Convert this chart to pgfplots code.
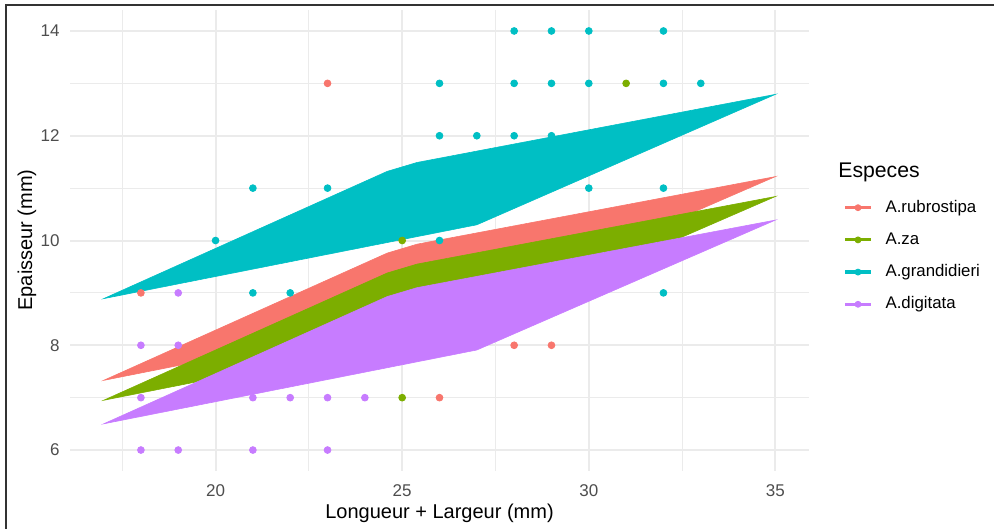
\documentclass[border=0pt]{standalone}
\usepackage{fontspec}
\setmainfont{Liberation Sans}
\usepackage{pgfplots}
\pgfplotsset{compat=1.18}
\definecolor{cR}{HTML}{F8766D}
\definecolor{cG}{HTML}{7CAE00}
\definecolor{cC}{HTML}{00BFC4}
\definecolor{cP}{HTML}{C77CFF}
\definecolor{gridc}{HTML}{EBEBEB}
\definecolor{tickc}{HTML}{4D4D4D}
\begin{document}
\begin{tikzpicture}
\path[use as bounding box] (0,0) rectangle (497pt,264.5pt);
\draw[line width=1pt, black!80] (3pt,0pt) -- (3pt,261.75pt) -- (497pt,261.75pt);
\begin{axis}[
  at={(35pt,29pt)}, anchor=south west, scale only axis,
  width=369.5pt, height=230.5pt,
  xmin=16.1, xmax=35.9, ymin=5.6, ymax=14.4,
  axis line style={draw=none},
  tick style={draw=none},
  major tick length=0pt, minor tick length=0pt,
  xtick={20,25,30,35}, ytick={6,8,10,12,14},
  minor xtick={17.5,22.5,27.5,32.5}, minor ytick={7,9,11,13},
  grid=both,
  major grid style={gridc, line width=1pt},
  minor grid style={gridc, line width=0.5pt},
  /pgf/number format/assume math mode=true,
  ticklabel style={font=\fontsize{8.5}{10}\selectfont, text=tickc},
  xticklabel style={yshift=-3.2pt},
  yticklabel style={xshift=-1.7pt},
  legend style={at={(1.046,0.4664)}, anchor=west, draw=none, fill=none,
    inner sep=0pt, row sep=8pt,
    nodes={inner sep=0pt, text height=6.3pt, text depth=1.8pt, anchor=west},
    font=\fontsize{8.4}{10}\selectfont,
    /tikz/every odd column/.append style={column sep=6.5pt}},
  legend cell align=left,
  legend image code/.code={%
    \draw[mark repeat=2,mark phase=2,#1] plot coordinates {(0pt,0pt) (6.5pt,0pt) (13pt,0pt)};},
  clip=true,
]
% points (drawn under the bands)
\addplot[only marks, mark=*, mark size=1.7pt, cR, forget plot] coordinates {
 (23,13) (18,9) (28,8) (29,8) (26,7)};
\addplot[only marks, mark=*, mark size=1.7pt, cG, forget plot] coordinates {
 (31,13) (25,10) (25,7)};
\addplot[only marks, mark=*, mark size=1.7pt, cC, forget plot] coordinates {
 (28,14) (29,14) (30,14) (32,14)
 (26,13) (28,13) (29,13) (30,13) (32,13) (33,13)
 (26,12) (27,12) (28,12) (29,12)
 (21,11) (23,11) (30,11) (32,11)
 (20,10) (26,10)
 (21,9) (22,9) (32,9)};
\addplot[only marks, mark=*, mark size=1.7pt, cP, forget plot] coordinates {
 (19,9) (18,8) (19,8)
 (18,7) (21,7) (22,7) (23,7) (24,7)
 (18,6) (19,6) (21,6) (23,6)};
% bands
\addplot[fill=cR, draw=cR, line width=0.3pt, forget plot] coordinates {
 (17,7.33) (24.6,9.76) (25.4,9.93) (35,11.22) (27,8.74)} -- cycle;
\addplot[fill=cG, draw=cG, line width=0.3pt, forget plot] coordinates {
 (17,6.95) (24.6,9.38) (25.4,9.55) (35,10.84) (27,8.36)} -- cycle;
\addplot[fill=cC, draw=cC, line width=0.3pt, forget plot] coordinates {
 (17,8.89) (24.6,11.32) (25.4,11.49) (35,12.79) (27,10.30)} -- cycle;
\addplot[fill=cP, draw=cP, line width=0.3pt, forget plot] coordinates {
 (17,6.50) (24.6,8.93) (25.4,9.10) (35,10.39) (27,7.91)} -- cycle;
% legend
\addlegendimage{cR, line width=1.6pt, mark=*, mark size=1.5pt, mark options={line width=0.4pt}}
\addlegendentry{A.rubrostipa}
\addlegendimage{cG, line width=1.6pt, mark=*, mark size=1.5pt, mark options={line width=0.4pt}}
\addlegendentry{A.za}
\addlegendimage{cC, line width=1.6pt, mark=*, mark size=1.5pt, mark options={line width=0.4pt}}
\addlegendentry{A.grandidieri}
\addlegendimage{cP, line width=1.6pt, mark=*, mark size=1.5pt, mark options={line width=0.4pt}}
\addlegendentry{A.digitata}
\end{axis}
\node[anchor=west, inner sep=0pt, font=\fontsize{10.6}{12}\selectfont] at (419pt,178.5pt) {Especes};
\node[anchor=center, inner sep=0pt, font=\fontsize{10}{12}\selectfont] at (219.75pt,8pt) {Longueur + Largeur (mm)};
\node[anchor=center, inner sep=0pt, rotate=90, font=\fontsize{10}{12}\selectfont] at (13.5pt,144.5pt) {Epaisseur (mm)};
\end{tikzpicture}
\end{document}
